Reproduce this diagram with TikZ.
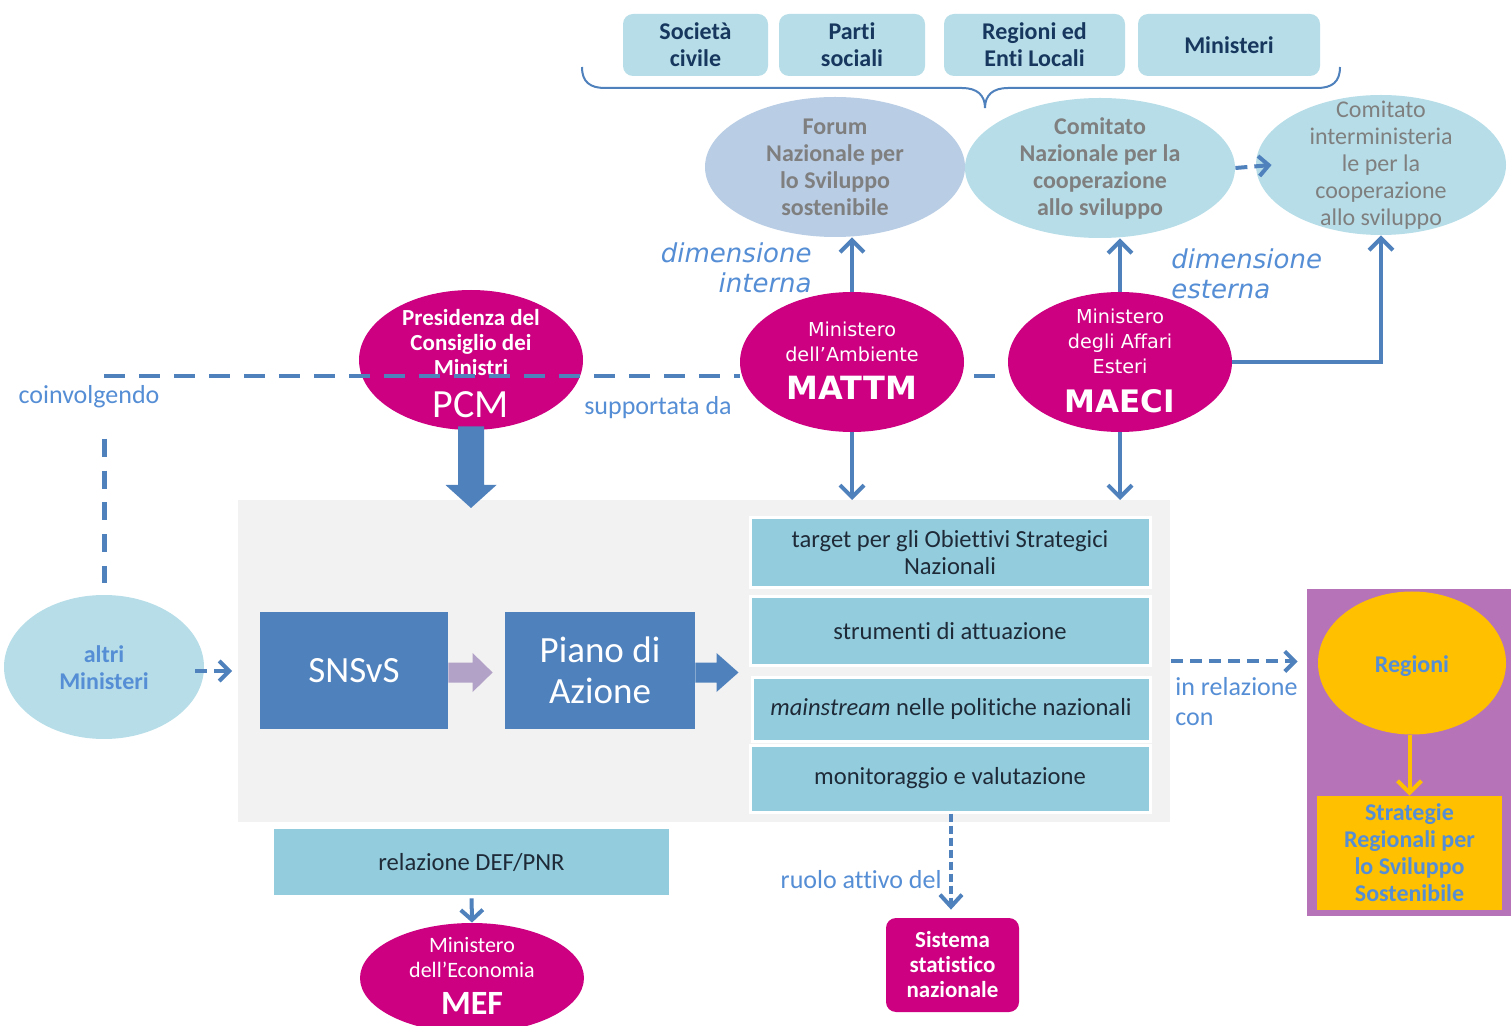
\documentclass[tikz,border=0pt]{standalone}
\usepackage{fontspec}
\setmainfont{Carlito}[Ligatures={NoCommon,NoContextual},Contextuals=NoAlternate]
\newfontfamily\verd{DejaVu Sans}
\usetikzlibrary{shapes.geometric,arrows.meta,calc}
\definecolor{lb}{HTML}{B7DEE8}
\definecolor{lbg}{HTML}{B9CDE5}
\definecolor{rbc}{HTML}{93CDDD}
\definecolor{mag}{RGB}{204,0,128}
\definecolor{blu}{HTML}{4F81BD}
\definecolor{lbt}{HTML}{558ED5}
\definecolor{navy}{HTML}{17375E}
\definecolor{gry}{HTML}{7F7F7F}
\definecolor{pnl}{HTML}{F2F2F2}
\definecolor{purp}{HTML}{B3A2C7}
\definecolor{orch}{RGB}{183,115,184}
\definecolor{gold}{HTML}{FFC000}
\definecolor{dtx}{HTML}{1F2A38}
\newcommand\fsz[2]{\fontsize{#1}{#2}\selectfont}
\begin{document}
\begin{tikzpicture}[x=0.5pt,y=-0.5pt,
  topbox/.style={rounded corners=5pt, fill=lb, text=navy, font=\bfseries\fsz{12}{13.5}, align=center, minimum height=31pt, inner sep=0pt},
  ell/.style={ellipse, inner sep=0pt},
  txt/.style={align=center, inner sep=0pt},
  conn/.style={draw=blu, line width=2pt, -{Straight Barb[length=6pt,width=12pt]}},
  ldash/.style={draw=blu, line width=2pt, dash pattern=on 10.5pt off 7pt},
  vdash/.style={draw=blu, line width=2.5pt, dash pattern=on 9pt off 6.85pt},
  sdash/.style={draw=blu, line width=2pt, dash pattern=on 6pt off 3.5pt, -{Straight Barb[length=5pt,width=10pt]}},
  tdash/.style={draw=blu, line width=2pt, dash pattern=on 4pt off 2pt, -{Straight Barb[length=6pt,width=11pt]}},
  rbox/.style={fill=rbc, draw=white, line width=1.5pt, text=dtx, font=\fsz{12.3}{13.5}, align=center, inner sep=0pt, minimum width=200pt},
  lbl/.style={text=lbt, font=\fsz{13}{15}, inner sep=0pt},
  ilbl/.style={text=lbt, font=\verd\itshape\fsz{13}{15}, inner sep=0pt},
]
\fill[white] (0,0) rectangle (1511,1026);
\useasboundingbox (0,0) rectangle (1511,1026);

% top boxes
\node[topbox, minimum width=72.5pt] (soc) at (695.5,45) {Società\\civile};
\node[topbox, minimum width=73pt] (parti) at (852,45) {Parti\\sociali};
\node[topbox, minimum width=90.5pt] (regl) at (1034.5,45) {Regioni ed\\Enti Locali};
\node[topbox, minimum width=91pt] (mins) at (1229,45) {Ministeri};

% brace
\draw[blu, line width=1pt] (582,67) .. controls (582,82) and (590,88) .. (605,88) -- (962,88)
  .. controls (977,88) and (985,95) .. (985,108) .. controls (985,95) and (993,88) .. (1008,88)
  -- (1317,88) .. controls (1332,88) and (1340,82) .. (1340,67);

% forum / comitati
\node[ell, fill=lbg, minimum width=130pt, minimum height=70pt] (forum) at (835,167) {};
\node[txt, text=gry, font=\bfseries\fsz{12}{13.5}] at (forum) {Forum\\Nazionale per\\lo Sviluppo\\sostenibile};
\node[ell, fill=lb, minimum width=135pt, minimum height=70pt] (cnc) at (1100,168) {};
\node[txt, text=gry, font=\bfseries\fsz{12}{13.5}] at (cnc) {Comitato\\Nazionale per la\\cooperazione\\allo sviluppo};
\node[ell, fill=lb, minimum width=125pt, minimum height=70pt] (cic) at (1381,165) {};
\node[txt, text=gry, font=\fsz{12}{13.5}] at (cic) {Comitato\\interministeria\\le per la\\cooperazione\\allo sviluppo};
\draw[sdash] (cnc.east) -- ([xshift=8pt]cic.west);

% labels dimensione
\node[ilbl, anchor=east, align=right] at (812,268) {dimensione\\interna};
\node[ilbl, anchor=west, align=left] at (1171,274) {dimensione\\esterna};

% magenta ellipses
\node[ell, fill=mag, minimum width=112pt, minimum height=70pt] (pcm) at (471,360) {};
\node[txt, text=white, font=\bfseries\fsz{11.5}{12.5}] at (471,343) {Presidenza del\\Consiglio dei\\Ministri};
\node[txt, text=white, font=\fsz{20}{20}] at (471,405) {PCM};

\node[ell, fill=mag, minimum width=112pt, minimum height=70pt] (mattm) at (852,362) {};
\node[txt, text=white, font=\verd\fsz{9.6}{12.5}] at (852,341.5) {Ministero\\dell’Ambiente};
\node[txt, text=white, font=\verd\bfseries\fsz{16}{16}] at (852,388) {MATTM};

\node[ell, fill=mag, minimum width=112pt, minimum height=70pt] (maeci) at (1120,362) {};
\node[txt, text=white, font=\verd\fsz{9.6}{12.5}] at (1120,341) {Ministero\\degli Affari\\Esteri};
\node[txt, text=white, font=\verd\bfseries\fsz{15.5}{16}] at (1120,401) {MAECI};

% arrows up
\draw[conn] (mattm.north) -- (mattm.north |- forum.south);
\draw[conn] (maeci.north) -- (maeci.north |- cnc.south);
\draw[conn] (maeci.east) -- (cic.south |- maeci.east) -- (cic.south);

% dashed horizontal
\coordinate (cv) at (104,376);
\draw[ldash] (cv) -- (cv -| mattm.west);
\draw[ldash, shorten <=5pt, shorten >=6pt] (mattm.east |- cv) -- (maeci.west |- cv);

\node[lbl] at (89,397) {coinvolgendo};
\node[lbl] at (658,408) {supportata da};

% altri ministeri
\node[ell, fill=lb, minimum width=100pt, minimum height=72pt] (altri) at (104,667) {};
\node[txt, text=lbt, font=\bfseries\fsz{12}{13.5}] at (104,668) {altri\\Ministeri};
\coordinate (cv2) at (104,439);
\draw[vdash, shorten >=6pt] (cv2) -- (altri.north);

% panel
\node[fill=pnl, minimum width=466pt, minimum height=161pt, inner sep=0pt, anchor=north west] (panel) at (238,500) {};

% PCM block arrow
\coordinate (pcmtip) at ([yshift=-4pt]pcm.south |- panel.north);
\fill[blu] ([xshift=-6.5pt,yshift=2pt]pcm.south) -- ([xshift=-6.5pt,yshift=11.5pt]pcmtip) -- ([xshift=-12.75pt,yshift=11.5pt]pcmtip) -- (pcmtip)
  -- ([xshift=12.75pt,yshift=11.5pt]pcmtip) -- ([xshift=6.5pt,yshift=11.5pt]pcmtip) -- ([xshift=6.5pt,yshift=2pt]pcm.south) -- cycle;

% down arrows from MATTM, MAECI
\draw[conn] (mattm.south) -- (mattm.south |- panel.north);
\draw[conn] (maeci.south) -- (maeci.south |- panel.north);

% altri arrow
\draw[sdash] ([xshift=-4.5pt,yshift=-2pt]altri.east) -- ([xshift=-3pt,yshift=-2pt]altri.east -| panel.west);

% SNSvS, Piano
\node[fill=blu, minimum width=94pt, minimum height=58.5pt, inner sep=0pt, text=white, font=\fsz{18.5}{20.5}] (snsvs) at (354,670.5) {SNSvS};
\node[fill=blu, minimum width=95pt, minimum height=58.5pt, inner sep=0pt, text=white, font=\fsz{18.5}{20.5}, align=center] (piano) at (600,670.5) {Piano di\\Azione};

% right boxes
\node[rbox, minimum height=35pt] (b1) at (950,553) {target per gli Obiettivi Strategici\\Nazionali};
\node[rbox, minimum height=34pt] (b2) at (950,631) {strumenti di attuazione};
\node[rbox, minimum height=32pt, minimum width=199pt] (b3) at (951,709) {\textit{mainstream} nelle politiche nazionali};
\node[rbox, minimum height=33.5pt] (b4) at (950,778.5) {monitoraggio e valutazione};

% purple block arrow
\coordinate (ptip) at ([xshift=-6pt,yshift=-1pt]piano.west);
\fill[purp] ([yshift=5pt]ptip -| snsvs.east) -- ([xshift=-10pt,yshift=5pt]ptip) -- ([xshift=-10pt,yshift=9.75pt]ptip) -- (ptip)
  -- ([xshift=-10pt,yshift=-9.75pt]ptip) -- ([xshift=-10pt,yshift=-5pt]ptip) -- ([yshift=-5pt]ptip -| snsvs.east) -- cycle;

% piano block arrow
\coordinate (atip) at ([xshift=-5pt]b1.west |- ptip);
\fill[blu] ([yshift=5pt]ptip -| piano.east) -- ([xshift=-11pt,yshift=5pt]atip) -- ([xshift=-11pt,yshift=9.75pt]atip) -- (atip)
  -- ([xshift=-11pt,yshift=-9.75pt]atip) -- ([xshift=-11pt,yshift=-5pt]atip) -- ([yshift=-5pt]ptip -| piano.east) -- cycle;

% sistema statistico
\node[fill=mag, rounded corners=5pt, minimum width=66.5pt, minimum height=47pt, inner sep=0pt, text=white, font=\bfseries\fsz{11.5}{12.5}, align=center] (sis) at (952.5,965) {Sistema\\statistico\\nazionale};
\draw[tdash, shorten >=4pt] ([xshift=0.5pt]b4.south) -- ([xshift=0.5pt]b4.south |- sis.north);
\node[lbl, anchor=east] at (942,880) {ruolo attivo del};

% relazione DEF/PNR and MEF
\node[fill=rbc, minimum width=197.5pt, minimum height=33pt, inner sep=0pt, text=dtx, font=\fsz{12.3}{13.5}] (rel) at (471.5,862) {relazione DEF/PNR};
\node[ell, fill=mag, minimum width=112pt, minimum height=55pt] (mef) at (472,978) {};
\node[txt, text=white, font=\fsz{11}{12.5}] at (472,957.5) {Ministero\\dell’Economia};
\node[txt, text=white, font=\bfseries\fsz{17}{17}] at (472,1003) {MEF};
\draw[draw=blu, line width=2pt, -{Straight Barb[length=5pt,width=11pt]}, shorten <=1.5pt] (rel.south) -- (mef.north);

% regioni side
\node[fill=orch, minimum width=102pt, minimum height=163.5pt, inner sep=0pt] (regbox) at (1409,752.5) {};
\node[ell, fill=gold, minimum width=94pt, minimum height=71.5pt] (regioni) at (1412,663) {};
\node[txt, text=lbt, font=\bfseries\fsz{12}{13.5}] at ([yshift=-1.5pt]regioni.center) {Regioni};
\node[fill=gold, minimum width=92.5pt, minimum height=57pt, inner sep=0pt, text=lbt, font=\bfseries\fsz{12}{13.5}, align=center] (strat) at (1409.5,853) {Strategie\\Regionali per\\lo Sviluppo\\Sostenibile};
\draw[draw=gold, line width=2pt, -{Straight Barb[length=6pt,width=12pt]}] (regioni.south -| strat.north) -- (strat.north);

\draw[sdash, shorten >=4.5pt] (panel.east) -- (panel.east -| regbox.west);
\node[lbl, anchor=north west, align=left] at (1175,677) {in relazione\\con};
\end{tikzpicture}
\end{document}
